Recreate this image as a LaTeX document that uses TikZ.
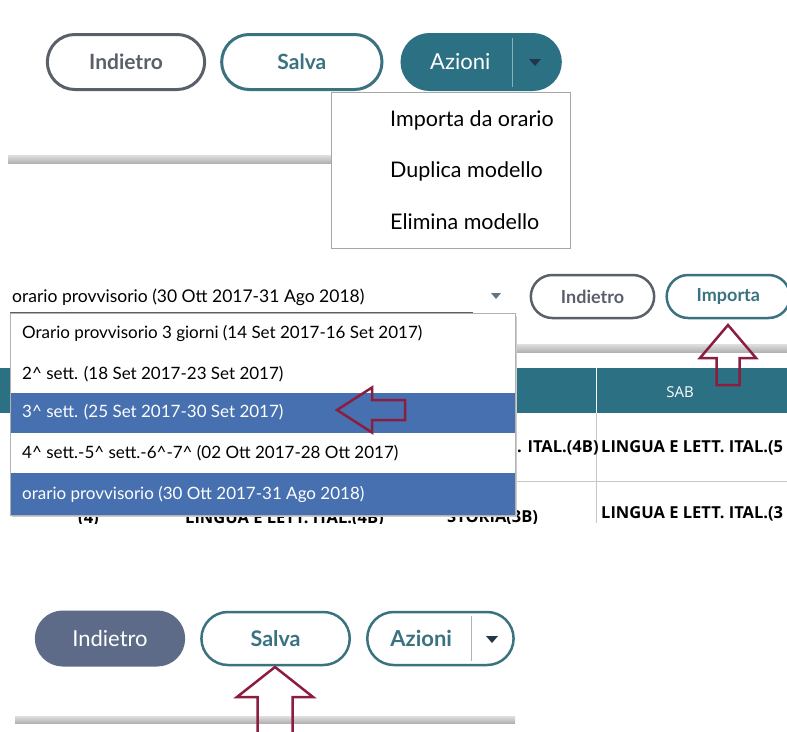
\documentclass[tikz,border=0pt]{standalone}
\usepackage{fontspec}
\setmainfont{Lato}
\newfontfamily\tablefont{Open Sans}
\usetikzlibrary{positioning}
\usetikzlibrary{shapes.misc}
\definecolor{tealbtn}{HTML}{2C7084}
\definecolor{tealline}{HTML}{3A7280}
\definecolor{grayline}{HTML}{5A606A}
\definecolor{slatebtn}{HTML}{5D6A88}
\definecolor{selblue}{HTML}{4770B0}
\definecolor{arrowred}{HTML}{8B1E3F}
\definecolor{darktri}{HTML}{22384A}
\tikzset{
  pill/.style={rounded rectangle,draw,line width=3pt,minimum width=164pt,
    minimum height=55pt,font=\fontsize{21}{21}\selectfont\bfseries},
  smallpill/.style={rounded rectangle,draw,line width=2.5pt,minimum width=130pt,
    minimum height=43pt,font=\fontsize{18}{18}\selectfont\bfseries},
  menuitem/.style={anchor=west,inner sep=0pt,font=\fontsize{21.5}{21.5}\selectfont},
  listitem/.style={anchor=west,inner sep=0pt,font=\fontsize{17}{17}\selectfont},
  cell/.style={anchor=west,inner sep=0pt,font=\tablefont\bfseries\fontsize{16.5}{16.5}\selectfont},
  redarrow/.style={draw=arrowred,line width=2.5pt,line join=miter},
  shadowbar/.style={top color=gray!25,bottom color=gray!60},
}
\begin{document}
\begin{tikzpicture}[x=1pt,y=-1pt]
\clip (0,0) rectangle (787,731);
\fill[white] (0,0) rectangle (787,731);

% top
\node[pill,draw=grayline,text=grayline] (indA) at (126,62) {Indietro};
\node[pill,draw=tealline,text=tealline,minimum width=167pt,right=14pt of indA] (salvaA) {Salva};
\node[pill,draw=tealbtn,fill=tealbtn,text=white,minimum width=165pt,right=17pt of salvaA,
  font=\fontsize{22}{22}\selectfont,text width=130pt] (azioniA) {\hspace*{14pt}Azioni};
\draw[tealbtn!55!white,line width=1pt] (512,38) -- (512,87);
\fill[darktri] (529,59) -- (541,59) -- (535,66) -- cycle;
\shade[shadowbar] (8,155) rectangle (331,163);
\node[draw=gray!70,fill=white,line width=1pt,minimum width=239pt,minimum height=156pt,
  inner sep=0pt] (menuA) at (450.5,170) {};
\node[menuitem] (impA) at (390,120) {Importa da orario};
\node[menuitem] (dupA) at (390,171) {Duplica modello};
\node[menuitem] (elimA) at (390,222) {Elimina modello};

% middle
\begin{scope}
\clip (0,262) rectangle (787,523);
\shade[shadowbar] (515,344) rectangle (787,352);
\fill[tealbtn] (0,368) rectangle (787,413);
\draw[white,line width=1pt] (596,368) -- (596,413);
\node[text=white,font=\tablefont\fontsize{15}{15}\selectfont] (sab) at (680,392) {SAB};
\draw[gray!45,line width=0.8pt] (596,413) -- (596,523);
\draw[gray!45,line width=0.8pt] (515,481) -- (787,481);
\node[cell] (c11) at (517,448) {. ITAL.(4B)};
\node[cell] (c12) at (601,448) {LINGUA E LETT. ITAL.(5};
\node[cell] (c20) at (78,519) {(4)};
\node[cell] (c21) at (185,519) {LINGUA E LETT. ITAL.(4B)};
\node[cell] (c22) at (447,518) {STORIA(3B)};
\node[cell] (c23) at (601,514) {LINGUA E LETT. ITAL.(3};

\node[smallpill,draw=grayline,text=grayline] (indB) at (592.5,296.5) {Indietro};
\node[smallpill,draw=tealline,text=tealline,right=10pt of indB] (importa) {Importa};

\node[listitem,font=\fontsize{17.5}{17.5}\selectfont] (sel) at (12,297)
  {orario provvisorio (30 Ott 2017-31 Ago 2018)};
\draw[grayline,line width=1pt] (10,312) -- (473,312);
\fill[darktri!70] (491,293) -- (501,293) -- (496,299) -- cycle;

\fill[gray!40] (12,316) rectangle (517,517);
\node[draw=gray!60,fill=white,line width=0.8pt,minimum width=505pt,minimum height=202pt,
  inner sep=0pt] (list) at (262.5,414) {};
\fill[selblue] (10.5,393) rectangle (514.5,433);
\fill[selblue] (10.5,473) rectangle (514.5,514.5);
\node[listitem] (o1) at (22,333) {Orario provvisorio 3 giorni (14 Set 2017-16 Set 2017)};
\node[listitem] (o2) at (22,374) {2\^{} sett. (18 Set 2017-23 Set 2017)};
\node[listitem,text=white] (o3) at (22,412) {3\^{} sett. (25 Set 2017-30 Set 2017)};
\node[listitem] (o4) at (22,453) {4\^{} sett.-5\^{} sett.-6\^{}-7\^{} (02 Ott 2017-28 Ott 2017)};
\node[listitem,text=white] (o5) at (22,494) {orario provvisorio (30 Ott 2017-31 Ago 2018)};

\coordinate (tipB) at (728,325);
\draw[redarrow] (tipB) -- ++(-28,33) -- ++(16.5,0) -- ++(0,27) -- ++(23,0)
  -- ++(0,-27) -- ++(16.5,0) -- cycle;
\coordinate (tipC) at (337,410);
\draw[redarrow] (tipC) -- ++(35,-22.5) -- ++(0,12.5) -- ++(33,0) -- ++(0,20)
  -- ++(-33,0) -- ++(0,12.5) -- cycle;
\end{scope}

% bottom
\shade[shadowbar] (15,716) rectangle (515,723);
\node[pill,fill=slatebtn,draw=slatebtn,text=white,minimum width=154pt,minimum height=53pt,
  font=\fontsize{22}{22}\selectfont] (indC) at (110,638.5) {Indietro};
\node[pill,draw=tealline,text=tealline,minimum width=155pt,minimum height=53pt,
  line width=2.5pt,font=\fontsize{21.5}{21.5}\selectfont\bfseries,right=15pt of indC] (salvaC) {Salva};
\node[pill,draw=tealline,text=tealline,minimum width=153pt,minimum height=53pt,
  line width=2.5pt,font=\fontsize{22}{22}\selectfont\bfseries,right=15pt of salvaC,
  text width=124pt] (azioniC) {\hspace*{12pt}Azioni};
\draw[gray!60,line width=0.8pt] (471,616) -- (471,661);
\fill[darktri] (486,636) -- (498,636) -- (492,643) -- cycle;
\coordinate (tipD) at (275,667);
\draw[redarrow] (tipD) -- ++(-38,30) -- ++(20.5,0) -- ++(0,50) -- ++(35,0)
  -- ++(0,-50) -- ++(20.5,0) -- cycle;
\end{tikzpicture}
\end{document}
